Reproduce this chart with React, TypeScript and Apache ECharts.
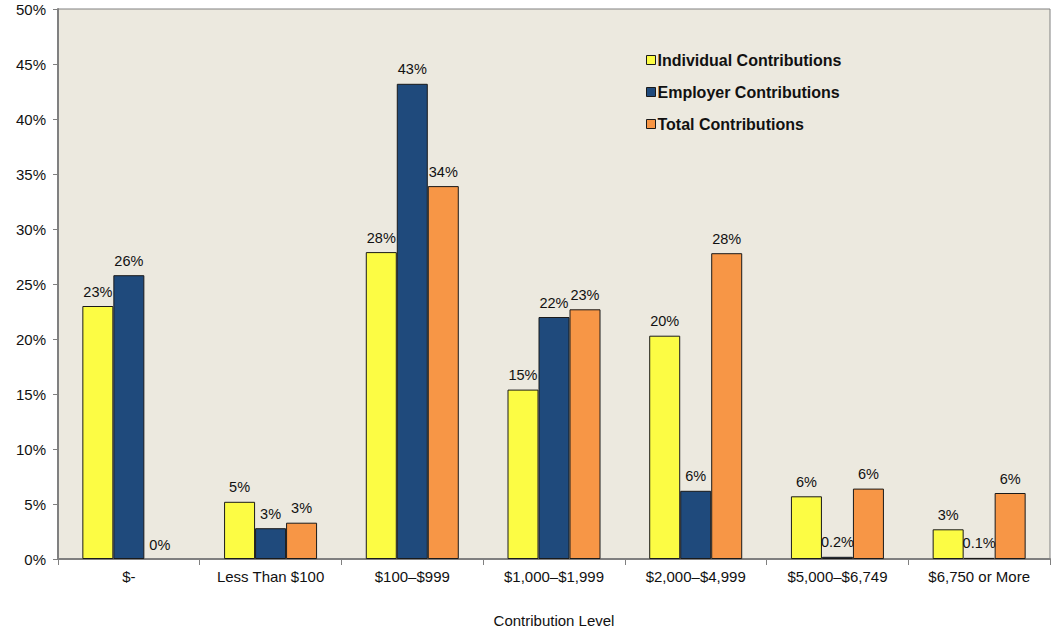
import React, { useEffect, useRef } from "react";
import * as echarts from "echarts";

const categories = ["$-", "Less Than $100", "$100–$999", "$1,000–$1,999", "$2,000–$4,999", "$5,000–$6,749", "$6,750 or More"];
const individual = [23.0, 5.2, 27.9, 15.4, 20.3, 5.7, 2.7];
const employer = [25.8, 2.8, 43.2, 22.0, 6.2, 0.2, 0.1];
const total = [0, 3.3, 33.9, 22.7, 27.8, 6.4, 6.0];
const yTicks = [0, 5, 10, 15, 20, 25, 30, 35, 40, 45, 50];

const fmt = (v: number) => (v > 0 && v < 1 ? v.toFixed(1) + "%" : Math.round(v) + "%");

export default function App() {
  const ref = useRef<HTMLDivElement>(null);
  useEffect(() => {
    const chart = echarts.init(ref.current!, null, { renderer: "svg" });
    const font = "Liberation Sans, Arial, sans-serif";
    const mk = (name: string, data: number[], color: string) => ({
      name,
      type: "bar",
      data: data.map((v) => (v === 0 ? { value: v, itemStyle: { borderWidth: 0 } } : v)),
      barWidth: 31,
      barGap: "0%",
      itemStyle: { color, borderColor: "#1a1a1a", borderWidth: 1 },
      label: {
        show: true,
        position: "top",
        distance: 7,
        formatter: (p: any) => fmt(p.value),
        color: "#111",
        fontSize: 14.5,
        fontFamily: font,
      },
    });
    chart.setOption({
      animation: false,
      backgroundColor: "#fff",
      grid: {
        left: 58,
        right: 12,
        top: 9,
        bottom: 71,
        show: true,
        backgroundColor: "#ECE9DF",
        borderColor: "#808080",
        borderWidth: 1,
      },
      legend: {
        orient: "vertical",
        left: 641,
        top: 47,
        itemWidth: 9,
        itemHeight: 9,
        itemGap: 16,
        icon: "rect",
        textStyle: { fontSize: 16, fontWeight: "bold", fontFamily: font, color: "#111", padding: [0, 0, 0, -3] },
        data: [
          { name: "Individual Contributions", itemStyle: { borderColor: "#1a1a1a", borderWidth: 1 } },
          { name: "Employer Contributions", itemStyle: { borderColor: "#1a1a1a", borderWidth: 1 } },
          { name: "Total Contributions", itemStyle: { borderColor: "#1a1a1a", borderWidth: 1 } },
        ],
      },
      xAxis: {
        type: "category",
        data: categories,
        name: "Contribution Level",
        nameLocation: "middle",
        nameGap: 54,
        nameTextStyle: { fontSize: 15, fontFamily: font, color: "#111" },
        axisLine: { lineStyle: { color: "#808080", width: 2 } },
        axisTick: { show: true, length: 6, lineStyle: { color: "#808080" } },
        axisLabel: { fontSize: 15, fontFamily: font, color: "#111", margin: 10 },
      },
      yAxis: {
        type: "value",
        min: yTicks[0],
        max: yTicks[yTicks.length - 1],
        interval: 5,
        splitLine: { show: false },
        axisLine: { show: true, lineStyle: { color: "#808080", width: 2 } },
        axisTick: { show: true, length: 5, lineStyle: { color: "#808080" } },
        axisLabel: { formatter: (v: number) => v + "%", fontSize: 15, fontFamily: font, color: "#111", margin: 12 },
      },
      series: [
        mk("Individual Contributions", individual, "#FCFC44"),
        mk("Employer Contributions", employer, "#1F4A7C"),
        mk("Total Contributions", total, "#F79646"),
      ],
    });
    return () => chart.dispose();
  }, []);
  return <div ref={ref} style={{ position: "fixed", left: 0, top: 0, width: 1062, height: 633 }} />;
}
